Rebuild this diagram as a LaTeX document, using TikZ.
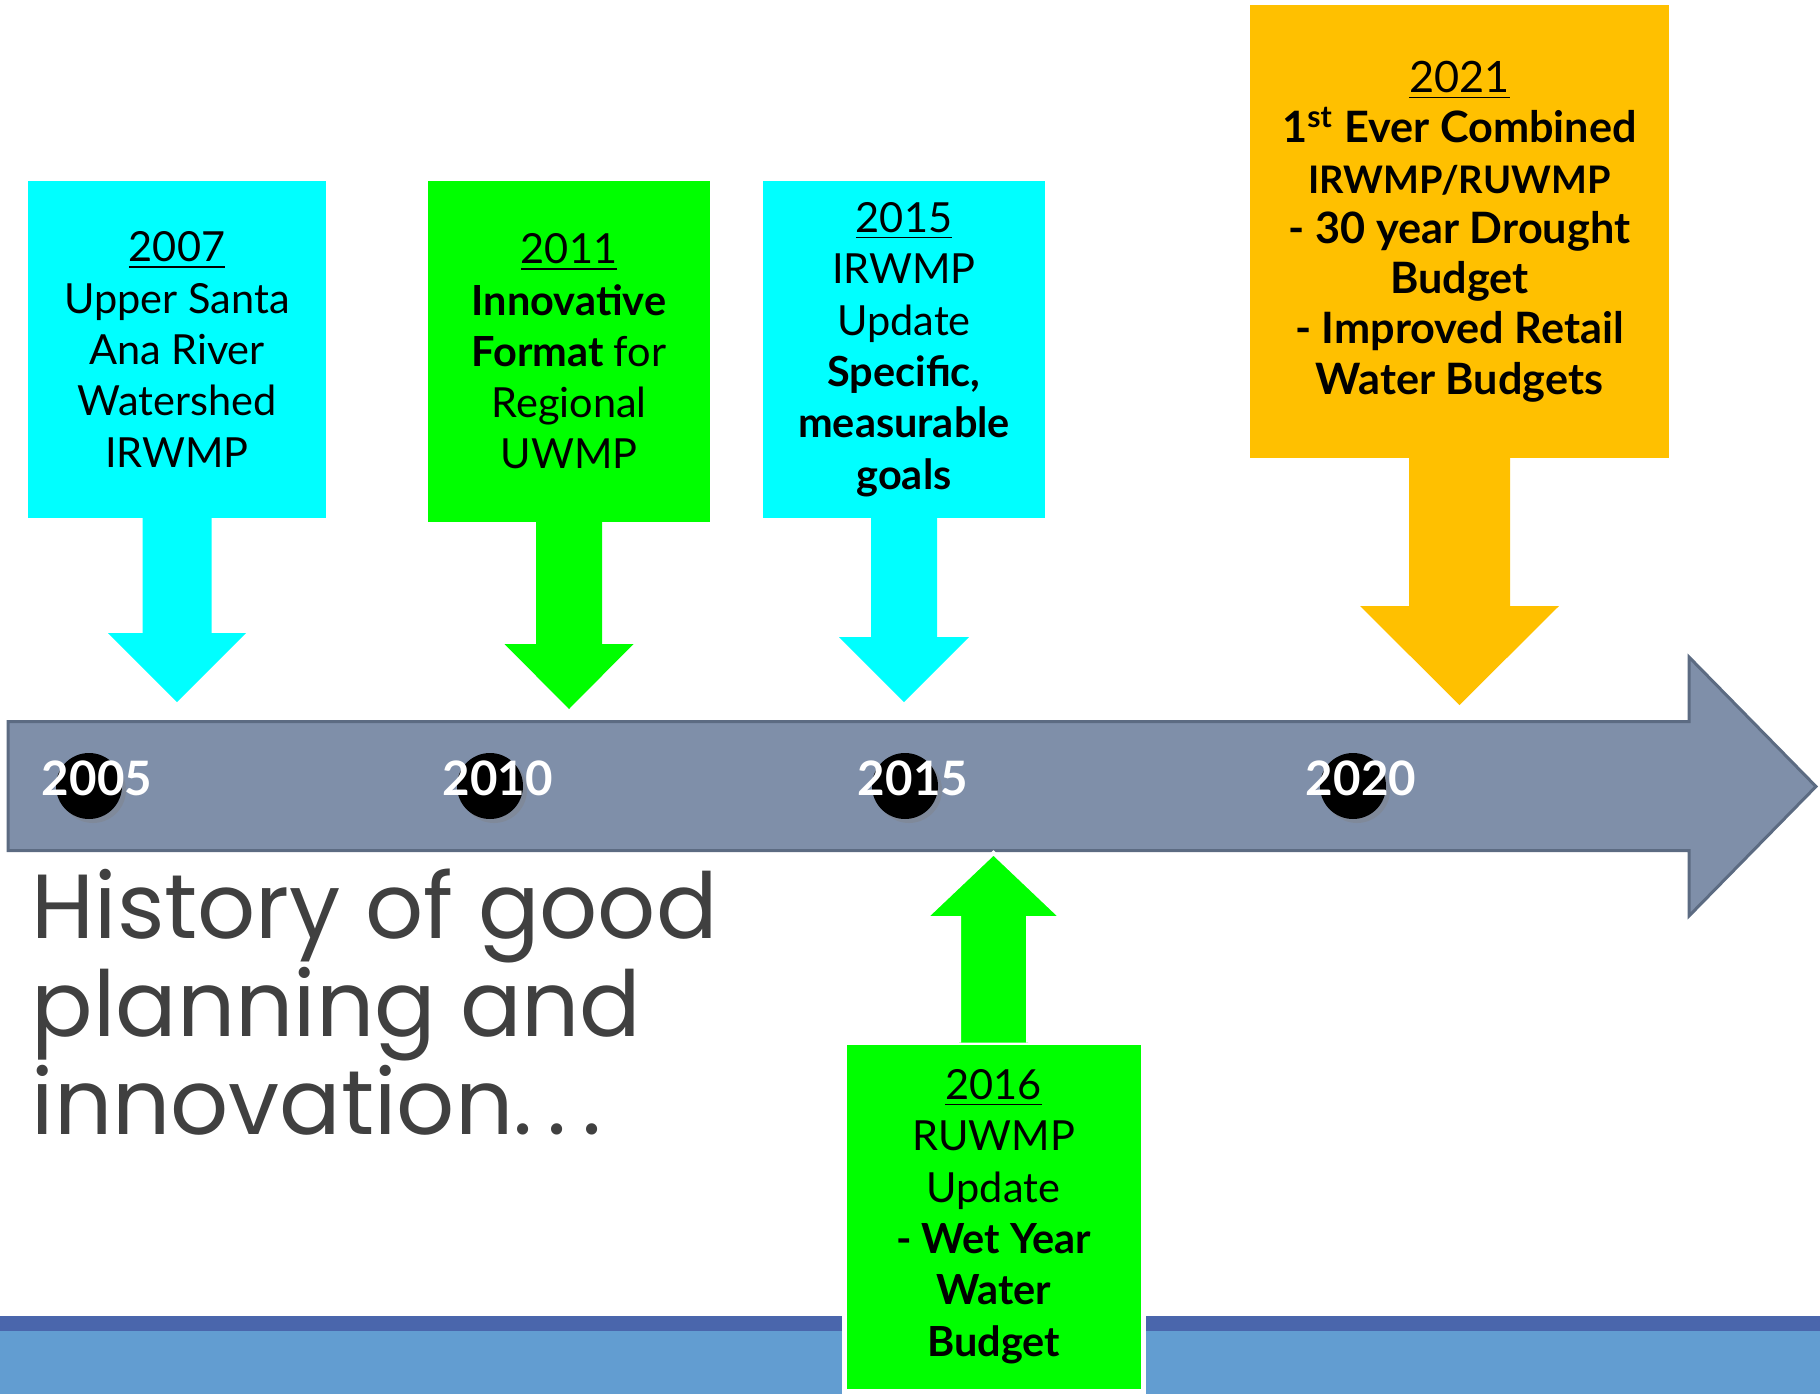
\documentclass[tikz,border=0pt]{standalone}
\usepackage{fontspec}
\setmainfont{Lato}
\newfontfamily\titlefont{Poppins}
\usepackage{xcolor}
\usepackage{tikz}
\usetikzlibrary{calc,shadows}

\definecolor{boxcyan}{HTML}{00FFFF}
\definecolor{boxgreen}{HTML}{00FF00}
\definecolor{boxamber}{HTML}{FFC000}
\definecolor{linefill}{HTML}{7F8FA9}
\definecolor{lineedge}{HTML}{5C6B82}
\definecolor{bardark}{HTML}{4A66AC}
\definecolor{barlight}{HTML}{629DD1}
\definecolor{titlegray}{HTML}{404040}

% box, tip, half shaft, half head, head length, style
\newcommand{\calldown}[6]{%
  \fill[#6] ($(#1.south)+(-#3,0.01)$) -- ($(#2)+(-#3,#5)$) -- ($(#2)+(-#4,#5)$) -- (#2)
    -- ($(#2)+(#4,#5)$) -- ($(#2)+(#3,#5)$) -- ($(#1.south)+(#3,0.01)$) -- cycle;}
\newcommand{\callup}[6]{%
  \filldraw[#6] ($(#1.north)+(-#3,-0.03)$) -- ($(#2)+(-#3,-#5)$) -- ($(#2)+(-#4,-#5)$) -- (#2)
    -- ($(#2)+(#4,-#5)$) -- ($(#2)+(#3,-#5)$) -- ($(#1.north)+(#3,-0.03)$);}

\begin{document}
\begin{tikzpicture}
      \tikzstyle{event} = [rectangle, inner sep=0pt, align=center, font=\fontsize{11.8}{14.6}\selectfont]
      \tikzstyle{yeardot} = [circle, fill=black, minimum size=0.66cm, inner sep=0pt, drop shadow={opacity=0.35, shadow xshift=0.04cm, shadow yshift=-0.04cm}]
      \tikzstyle{yeartext} = [text=white, font=\bfseries\fontsize{13.5}{13.5}\selectfont]

      \useasboundingbox (0,0) rectangle (18.2,-13.94);

      % footer bars
      \fill[barlight] (0,-13.31) rectangle (18.2,-13.94);
      \fill[bardark] (0,-13.16) rectangle (18.2,-13.31);

      % timeline
      \draw[lineedge, fill=linefill, line width=0.03cm] (0.08,-7.215) -- (16.89,-7.215) -- (16.89,-6.57)
        -- (18.16,-7.865) -- (16.89,-9.16) -- (16.89,-8.505) -- (0.08,-8.505) -- cycle;

      \node (c2005) [yeardot] at (0.89,-7.86) {};
      \node (y2005) [yeartext] at (0.97,-7.78) {2005};
      \node (c2010) [yeardot] at (4.90,-7.86) {};
      \node (y2010) [yeartext] at (4.98,-7.78) {2010};
      \node (c2015) [yeardot] at (9.05,-7.86) {};
      \node (y2015) [yeartext] at (9.13,-7.78) {2015};
      \node (c2020) [yeardot] at (13.53,-7.86) {};
      \node (y2020) [yeartext] at (13.61,-7.78) {2020};

      % events above the line
      \node (b2007) [event, fill=boxcyan, minimum width=2.98cm, minimum height=3.37cm] at (1.77,-3.495)
        {\underline{2007}\\Upper Santa\\Ana River\\Watershed\\IRWMP};
      \node (b2011) [event, fill=boxgreen, minimum width=2.82cm, minimum height=3.41cm] at (5.69,-3.515)
        {\underline{2011}\\\textbf{Innovative}\\\textbf{Format} for\\Regional\\UWMP};
      \node (b2015) [event, fill=boxcyan, minimum width=2.82cm, minimum height=3.37cm] at (9.04,-3.495)
        {\underline{2015}\\IRWMP\\Update\\\textbf{Specific,}\\\textbf{measurable}\\\textbf{goals}};
      \node (b2021) [event, fill=boxamber, minimum width=4.19cm, minimum height=4.53cm, font=\fontsize{12.3}{14.3}\selectfont] at (14.595,-2.315)
        {\underline{2021}\\\textbf{1\textsuperscript{st} Ever Combined}\\{\fontsize{10.8}{14.3}\selectfont\textbf{IRWMP/RUWMP}}\\\textbf{- 30 year Drought}\\\textbf{Budget}\\\textbf{- Improved Retail}\\\textbf{Water Budgets}};

      \coordinate (t2007) at (b2007.south |- 0,-7.02);
      \coordinate (t2011) at (b2011.south |- 0,-7.09);
      \coordinate (t2015) at (b2015.south |- 0,-7.02);
      \coordinate (t2021) at (b2021.south |- 0,-7.05);

      \calldown{b2007}{t2007}{0.345}{0.69}{0.69}{boxcyan}
      \calldown{b2011}{t2011}{0.33}{0.645}{0.65}{boxgreen}
      \calldown{b2015}{t2015}{0.33}{0.65}{0.65}{boxcyan}
      \calldown{b2021}{t2021}{0.505}{0.995}{0.99}{boxamber}

      % event below the line
      \node (b2016) [event, fill=boxgreen, draw=white, line width=0.05cm, minimum width=2.99cm, minimum height=3.49cm] at (9.935,-12.165)
        {\underline{2016}\\RUWMP\\Update\\\textbf{- Wet Year}\\\textbf{Water}\\\textbf{Budget}};
      \coordinate (t2016) at (b2016.north |- 0,-8.53);
      \callup{b2016}{t2016}{0.345}{0.685}{0.65}{fill=boxgreen, draw=white, line width=0.04cm}

      \node (title) [anchor=north west, inner sep=0pt, align=left, text=titlegray, font=\titlefont\fontsize{25.9}{27.9}\selectfont] at (0.31,-8.68)
        {History of good\\planning and\\innovation.\,.\,.};
\end{tikzpicture}
\end{document}
